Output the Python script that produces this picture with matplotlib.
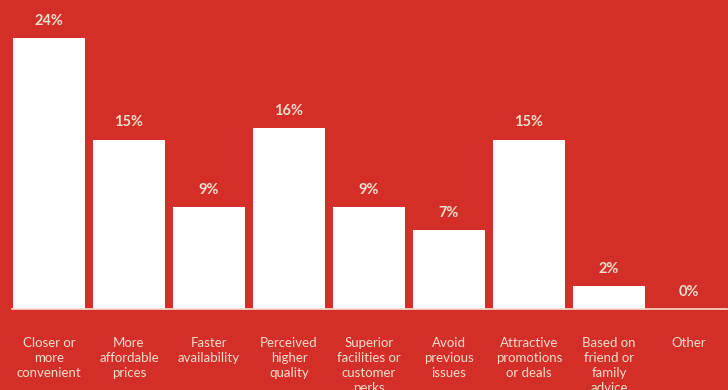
import matplotlib
matplotlib.use("Agg")
import matplotlib.pyplot as plt

# survey reasons and share of responses (%)
categories = [
    "Closer or\nmore\nconvenient",
    "More\naffordable\nprices",
    "Faster\navailability",
    "Perceived\nhigher\nquality",
    "Superior\nfacilities or\ncustomer\nperks",
    "Avoid\nprevious\nissues",
    "Attractive\npromotions\nor deals",
    "Based on\nfriend or\nfamily\nadvice",
    "Other",
]
shares = [24, 15, 9, 16, 9, 7, 15, 2, 0]

BG = "#d32f28"
TEXT = "#f7dccb"

plt.rcParams["font.family"] = ["Lato", "DejaVu Sans"]

fig = plt.figure(figsize=(7.28, 3.9), dpi=100, facecolor=BG)
ax = fig.add_axes([12 / 728, 81 / 390, 715 / 728, 305 / 390])
ax.set_facecolor(BG)

x = list(range(len(shares)))
ax.bar(x, shares, width=0.9, color="white", edgecolor="none")

for xi, v in zip(x, shares):
    ax.text(xi, v + 0.9, f"{v}%", ha="center", va="bottom",
            fontsize=10.5, fontweight="bold", color=TEXT)

ax.set_xlim(-0.4625, 8.475)
ax.set_ylim(0, 27)

for s in ["top", "right", "left"]:
    ax.spines[s].set_visible(False)
ax.spines["bottom"].set_color(TEXT)
ax.spines["bottom"].set_linewidth(1.2)

ax.set_yticks([])
ax.set_xticks(x)
ax.set_xticklabels(categories, fontsize=9.5, color=TEXT, linespacing=1.32)
ax.tick_params(axis="x", length=0, pad=20)

fig.savefig("out.png", dpi=100, facecolor=BG)
